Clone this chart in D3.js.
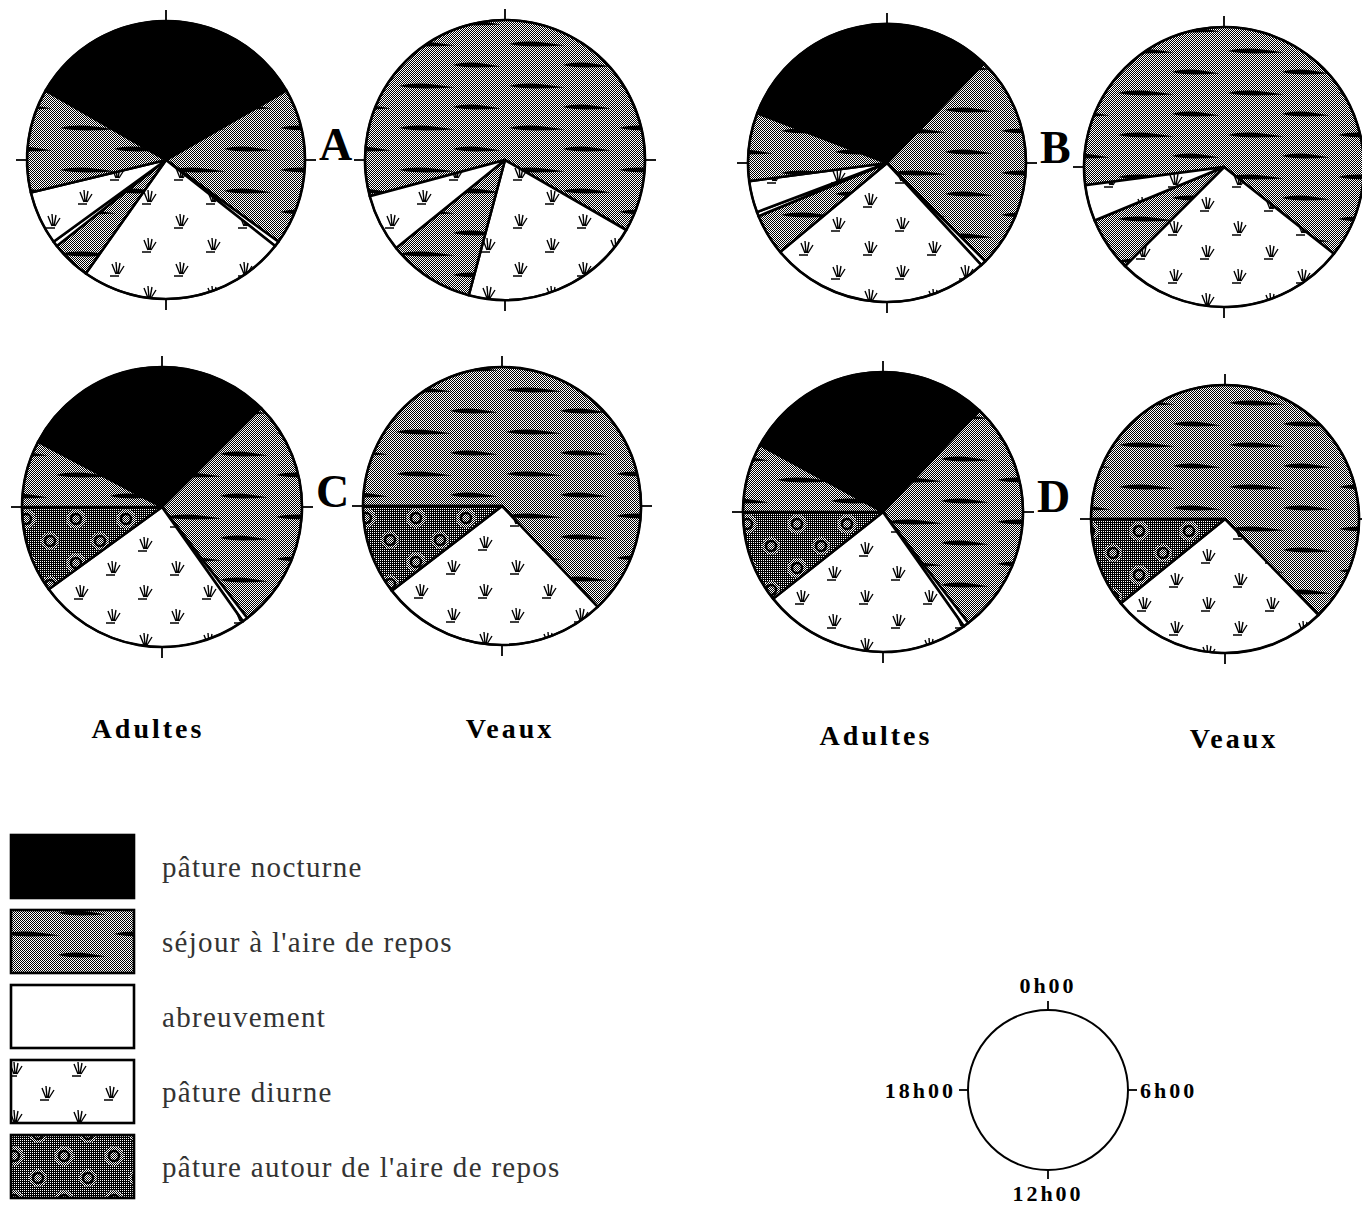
<!DOCTYPE html>
<html>
<head>
<meta charset="utf-8">
<script src="https://cdn.jsdelivr.net/npm/d3@7"></script>
<style>
  body { margin: 0; background: #fff; }
  text { font-family: "Liberation Serif", "DejaVu Serif", serif; }
</style>
</head>
<body>
<svg id="chart" width="1362" height="1207"></svg>
<script>
// legend order of the activities
const activities = ["nocturne", "sejour", "abreuvement", "diurne", "autour"];
const activityLabels = [
    "pâture nocturne",
    "séjour à l'aire de repos",
    "abreuvement",
    "pâture diurne",
    "pâture autour de l'aire de repos"
];

const panels = ["A", "B", "C", "D"];
const groups = ["Adultes", "Veaux"];
const clockLabels = ["0h00", "6h00", "12h00", "18h00"];

// hour at which each pie begins (Adultes, Veaux), then the activity bouts in hours, clockwise
const startHours = [[20, 17], [19.4, 17.5], [19.85, 18], [19.9, 18]];

const A_adultes = [["nocturne", 8], ["sejour", 4.4], ["abreuvement", 0.15], ["diurne", 5.8],
                   ["sejour", 1.1], ["abreuvement", 0.15], ["diurne", 1.5], ["sejour", 2.9]];
const A_veaux = [["sejour", 15], ["diurne", 5], ["sejour", 2.4], ["diurne", 1.6]];

const B_adultes = [["nocturne", 7.55], ["sejour", 6.05], ["abreuvement", 0.15], ["diurne", 6.2],
                   ["sejour", 1.15], ["abreuvement", 0.12], ["diurne", 0.88], ["sejour", 1.9]];
const B_veaux = [["sejour", 15.05], ["diurne", 6.45], ["sejour", 1.5], ["diurne", 1.0]];

const C_adultes = [["nocturne", 7.15], ["sejour", 6.5], ["abreuvement", 0.15], ["diurne", 5.95],
                   ["autour", 2.4], ["sejour", 1.85]];
const C_veaux = [["sejour", 15.1], ["diurne", 6.4], ["autour", 2.5]];

const D_adultes = [["nocturne", 7.0], ["sejour", 6.6], ["abreuvement", 0.15], ["diurne", 5.8],
                   ["autour", 2.55], ["sejour", 1.9]];
const D_veaux = [["sejour", 15.05], ["diurne", 6.35], ["autour", 2.6]];

const pieData = [[A_adultes, A_veaux], [B_adultes, B_veaux], [C_adultes, C_veaux], [D_adultes, D_veaux]];

// layout of the figure (centres and radii of the pies, by panel)
const pieCentres = [[[166, 160], [505, 160]], [[887, 163], [1224, 167]],
                    [[162, 507], [502, 506]], [[883, 512], [1225, 519]]];
const pieRadii = [[139, 140], [139, 140], [140, 139], [140, 134]];
const groupLabelPos = [[148, 738], [510, 738], [876, 745], [1234, 748]];

const svg = d3.select("#chart");
const defs = svg.append("defs");

// ---- textures ----
function pattern(id, w, h) {
    return defs.append("pattern").attr("id", id)
        .attr("width", w).attr("height", h)
        .attr("patternUnits", "userSpaceOnUse");
}

// 50% halftone
const dither = pattern("dither", 2, 2);
dither.append("rect").attr("width", 2).attr("height", 2).attr("fill", "#fff");
dither.append("rect").attr("width", 1).attr("height", 1).attr("fill", "#000");
dither.append("rect").attr("x", 1).attr("y", 1).attr("width", 1).attr("height", 1).attr("fill", "#000");

// darker halftone
const darkDither = pattern("darkDither", 2, 2);
darkDither.append("rect").attr("width", 2).attr("height", 2).attr("fill", "#000");
darkDither.append("rect").attr("width", 1).attr("height", 1).attr("fill", "#fff");

// a tapered wavy dash
function dash(x, y, len) {
    return `M${x},${y} C${x + len * 0.3},${y - 4.5} ${x + len * 0.6},${y - 2} ${x + len},${y + 1.5}`
        + ` C${x + len * 0.6},${y + 2.5} ${x + len * 0.3},${y + 3.5} ${x},${y}Z`;
}

const sejour = pattern("sejour", 110, 42);
sejour.append("rect").attr("width", 110).attr("height", 42).attr("fill", "url(#dither)");
sejour.append("path").attr("d", dash(4, 10, 56)).attr("fill", "#000");
sejour.append("path").attr("d", dash(58, 31, 48)).attr("fill", "#000");

// grass tuft
const tuft = "M0,0 L-4,-10 M1,0 L0,-12 M2,0 L4,-11 M3,0 L8,-8 M-6,2 H3";
const diurne = pattern("diurne", 64, 48);
diurne.append("rect").attr("width", 64).attr("height", 48).attr("fill", "#fff");
diurne.append("path").attr("d", tuft).attr("transform", "translate(14,18)")
    .attr("stroke", "#000").attr("stroke-width", 1.4).attr("fill", "none");
diurne.append("path").attr("d", tuft).attr("transform", "translate(46,42)")
    .attr("stroke", "#000").attr("stroke-width", 1.4).attr("fill", "none");

const autour = pattern("autour", 50, 44);
autour.append("rect").attr("width", 50).attr("height", 44).attr("fill", "url(#darkDither)");
autour.append("circle").attr("cx", 14).attr("cy", 12).attr("r", 10).attr("fill", "url(#dither)");
autour.append("circle").attr("cx", 38).attr("cy", 34).attr("r", 9).attr("fill", "url(#dither)");
autour.append("circle").attr("cx", 14).attr("cy", 12).attr("r", 5).attr("fill", "none")
    .attr("stroke", "#000").attr("stroke-width", 2.5);
autour.append("circle").attr("cx", 38).attr("cy", 34).attr("r", 5).attr("fill", "none")
    .attr("stroke", "#000").attr("stroke-width", 2.5);

const fills = d3.scaleOrdinal()
    .domain(activities)
    .range(["#000", "url(#sejour)", "#fff", "url(#diurne)", "url(#autour)"]);

// ---- pies ----
const hourAngle = d3.scaleLinear().domain([0, 24]).range([0, 2 * Math.PI]);

panels.forEach((panel, p) => {
    groups.forEach((group, g) => {
        const [cx, cy] = pieCentres[p][g];
        const r = pieRadii[p][g];
        const start = startHours[p][g];

        const pie = d3.pie()
            .sort(null)
            .value(d => d[1])
            .startAngle(hourAngle(start))
            .endAngle(hourAngle(start + 24));
        const arc = d3.arc().innerRadius(0).outerRadius(r);

        const gPie = svg.append("g").attr("transform", `translate(${cx},${cy})`);

        gPie.selectAll("path")
            .data(pie(pieData[p][g]))
            .join("path")
            .attr("d", arc)
            .attr("fill", d => fills(d.data[0]))
            .attr("stroke", "#000")
            .attr("stroke-width", 2.6)
            .attr("stroke-linejoin", "round");

        gPie.append("circle").attr("r", r)
            .attr("fill", "none").attr("stroke", "#000").attr("stroke-width", 2);

        // hour ticks at 0, 6, 12, 18
        gPie.selectAll("line")
            .data([0, 6, 12, 18])
            .join("line")
            .attr("x1", h => Math.sin(hourAngle(h)) * r)
            .attr("y1", h => -Math.cos(hourAngle(h)) * r)
            .attr("x2", h => Math.sin(hourAngle(h)) * (r + 11))
            .attr("y2", h => -Math.cos(hourAngle(h)) * (r + 11))
            .attr("stroke", "#000").attr("stroke-width", 1.8);

        if (g === 0) {
            svg.append("text")
                .attr("x", cx + r + 14)
                .attr("y", cy)
                .attr("font-size", 46)
                .attr("font-weight", "bold")
                .text(panel);
        }
    });
});

// group labels under the pies
const labelSeq = [groups[0], groups[1], groups[0], groups[1]];
svg.selectAll("text.group")
    .data(groupLabelPos)
    .join("text")
    .attr("class", "group")
    .attr("x", d => d[0])
    .attr("y", d => d[1])
    .attr("text-anchor", "middle")
    .attr("font-size", 28)
    .attr("font-weight", "bold")
    .attr("letter-spacing", 3)
    .text((d, i) => labelSeq[i]);

// ---- legend ----
const legendY = d3.scaleBand()
    .domain(activities)
    .range([835, 1198])
    .paddingInner(0.16);

const legend = svg.append("g");
legend.selectAll("rect")
    .data(activities)
    .join("rect")
    .attr("x", 11)
    .attr("y", d => legendY(d))
    .attr("width", 123)
    .attr("height", legendY.bandwidth())
    .attr("fill", d => fills(d))
    .attr("stroke", "#000")
    .attr("stroke-width", 2.6);

legend.selectAll("text")
    .data(activities)
    .join("text")
    .attr("x", 162)
    .attr("y", d => legendY(d) + legendY.bandwidth() / 2 + 10)
    .attr("font-size", 29)
    .attr("letter-spacing", 1.3)
    .attr("fill", "#333")
    .text((d, i) => activityLabels[i]);

// ---- clock key ----
const clockR = 80;
const clock = svg.append("g").attr("transform", "translate(1048,1090)");
clock.append("circle").attr("r", clockR)
    .attr("fill", "none").attr("stroke", "#000").attr("stroke-width", 2);

const clockHours = [0, 6, 12, 18];
clock.selectAll("line")
    .data(clockHours)
    .join("line")
    .attr("x1", h => Math.sin(hourAngle(h)) * clockR)
    .attr("y1", h => -Math.cos(hourAngle(h)) * clockR)
    .attr("x2", h => Math.sin(hourAngle(h)) * (clockR + 9))
    .attr("y2", h => -Math.cos(hourAngle(h)) * (clockR + 9))
    .attr("stroke", "#000").attr("stroke-width", 1.8);

const clockAnchor = ["middle", "start", "middle", "end"];
const clockDx = [0, 92, 0, -92];
const clockDy = [-97, 8, 111, 8];
clock.selectAll("text")
    .data(clockHours)
    .join("text")
    .attr("x", (h, i) => clockDx[i])
    .attr("y", (h, i) => clockDy[i])
    .attr("text-anchor", (h, i) => clockAnchor[i])
    .attr("font-size", 22)
    .attr("font-weight", "bold")
    .attr("letter-spacing", 3)
    .text((h, i) => clockLabels[i]);
</script>
</body>
</html>
